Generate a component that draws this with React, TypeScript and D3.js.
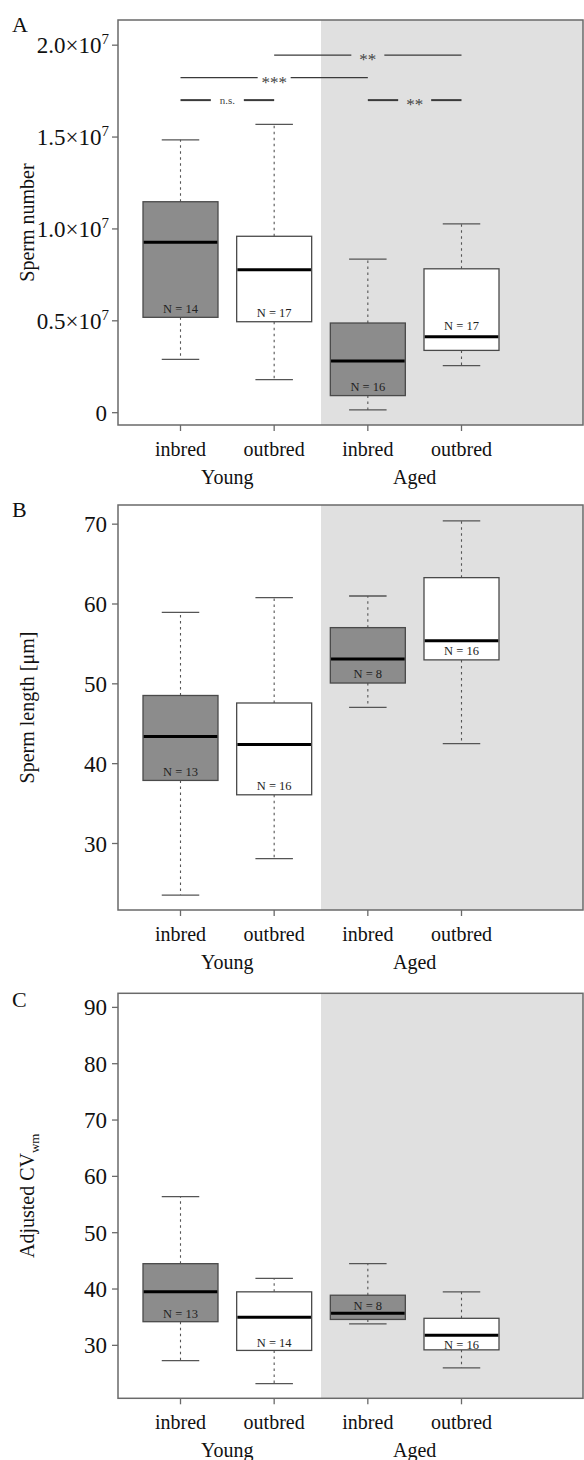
import React from 'react';
import * as d3 from 'd3';

// ---------- data ----------
const boxKeys = ['Young-inbred', 'Young-outbred', 'Aged-inbred', 'Aged-outbred'];
const categories = ['inbred', 'outbred', 'inbred', 'outbred'];
const ageGroups = ['Young', 'Aged'];
const breeding = ['inbred', 'outbred', 'inbred', 'outbred'];

// Panel A: sperm number
const numLow = [2.9e6, 1.8e6, 0.15e6, 2.56e6];
const numQ1 = [5.19e6, 4.95e6, 0.93e6, 3.39e6];
const numMed = [9.27e6, 7.78e6, 2.81e6, 4.13e6];
const numQ3 = [11.48e6, 9.6e6, 4.88e6, 7.83e6];
const numHigh = [14.85e6, 15.69e6, 8.36e6, 10.28e6];
const numN = [14, 17, 16, 17];
const numLabelAt = [5.64e6, 5.42e6, 1.41e6, 4.72e6];
const numTicks = [0, 0.5e7, 1.0e7, 1.5e7, 2.0e7];
const numDomain = [-0.67e6, 21.37e6];

// significance comparisons for panel A
const sigFrom = [1, 0, 0, 2];
const sigTo = [3, 2, 1, 3];
const sigAt = [19.46e6, 18.23e6, 17.01e6, 17.01e6];
const sigLabel = ['**', '***', 'n.s.', '**'];

// Panel B: sperm length
const lenLow = [23.54, 28.1, 47.04, 42.5];
const lenQ1 = [37.9, 36.1, 50.1, 53.0];
const lenMed = [43.41, 42.4, 53.1, 55.4];
const lenQ3 = [48.54, 47.6, 57.04, 63.3];
const lenHigh = [58.96, 60.79, 61.0, 70.4];
const lenN = [13, 16, 8, 16];
const lenLabelAt = [39.04, 37.25, 51.25, 54.1];
const lenTicks = [30, 40, 50, 60, 70];
const lenDomain = [21.67, 72.4];

// Panel C: adjusted CV
const cvLow = [27.3, 23.2, 33.8, 26.0];
const cvQ1 = [34.2, 29.1, 34.6, 29.2];
const cvMed = [39.5, 35.0, 35.7, 31.8];
const cvQ3 = [44.5, 39.5, 38.9, 34.8];
const cvHigh = [56.4, 41.9, 44.5, 39.5];
const cvN = [13, 14, 8, 16];
const cvLabelAt = [35.7, 30.5, 37.0, 30.05];
const cvTicks = [30, 40, 50, 60, 70, 80, 90];
const cvDomain = [20.6, 92.5];

// ---------- styles ----------
const FONT = '"Liberation Serif", "Times New Roman", serif';
const W = 584;
const H = 1460;
const LEFT = 118;
const RIGHT = 583;
const PH = 405;
const BOX_W = 75;
const FILL: Record<string, string> = { inbred: '#8c8c8c', outbred: '#ffffff' };
const FRAME = '#6a6a6a';
const AGED_BG = '#e0e0e0';

const xScale = d3.scalePoint<string>().domain(boxKeys).range([180.5, 461.5]);

type Stats = { low: number[]; q1: number[]; med: number[]; q3: number[]; high: number[]; n: number[]; labelAt: number[] };

function tickText(v: number, sci: boolean) {
  if (!sci || v === 0) return <>{d3.format('d')(v)}</>;
  const m = d3.format('.1f')(v / 1e7);
  return (
    <>
      {m}×10
      <tspan dy={-9} fontSize={15}>7</tspan>
    </>
  );
}

function Panel(props: {
  top: number;
  letter: string;
  letterY: number;
  yTitle: React.ReactNode;
  domain: number[];
  ticks: number[];
  sci: boolean;
  stats: Stats;
  brackets?: boolean;
}) {
  const { top, domain, ticks, sci, stats } = props;
  const bottom = top + PH;
  const y = d3.scaleLinear().domain(domain).range([bottom, top]);
  const xs = boxKeys.map((k) => xScale(k) as number);
  const split = (xs[1] + xs[2]) / 2;
  return (
    <g>
      <rect x={split} y={top} width={RIGHT - split} height={PH} fill={AGED_BG} />
      {/* significance brackets */}
      {props.brackets &&
        sigLabel.map((lab, i) => {
          const x1 = xs[sigFrom[i]];
          const x2 = xs[sigTo[i]];
          const yy = y(sigAt[i]);
          const mid = (x1 + x2) / 2;
          const gap = 16.5;
          const thick = i >= 2;
          const isStar = lab !== 'n.s.';
          return (
            <g key={'s' + i}>
              <line x1={x1} x2={mid - gap} y1={yy} y2={yy} stroke="#3a3a3a" strokeWidth={thick ? 2 : 1.2} />
              <line x1={mid + gap} x2={x2} y1={yy} y2={yy} stroke="#3a3a3a" strokeWidth={thick ? 2 : 1.2} />
              <text
                x={mid}
                y={yy + (isStar ? 10 : 4)}
                textAnchor="middle"
                fontFamily={FONT}
                fontSize={isStar ? 17 : 11}
                fill="#444"
              >
                {lab}
              </text>
            </g>
          );
        })}
      {/* boxes */}
      {boxKeys.map((k, i) => {
        const cx = xs[i];
        const fill = FILL[breeding[i]];
        return (
          <g key={k}>
            <line x1={cx} x2={cx} y1={y(stats.q3[i])} y2={y(stats.high[i])} stroke="#555" strokeWidth={1.1} strokeDasharray="2.5,3.5" />
            <line x1={cx} x2={cx} y1={y(stats.q1[i])} y2={y(stats.low[i])} stroke="#555" strokeWidth={1.1} strokeDasharray="2.5,3.5" />
            <line x1={cx - BOX_W / 4} x2={cx + BOX_W / 4} y1={y(stats.high[i])} y2={y(stats.high[i])} stroke="#555" strokeWidth={1.3} />
            <line x1={cx - BOX_W / 4} x2={cx + BOX_W / 4} y1={y(stats.low[i])} y2={y(stats.low[i])} stroke="#555" strokeWidth={1.3} />
            <rect
              x={cx - BOX_W / 2}
              y={y(stats.q3[i])}
              width={BOX_W}
              height={y(stats.q1[i]) - y(stats.q3[i])}
              fill={fill}
              stroke="#4a4a4a"
              strokeWidth={1.3}
            />
            <line x1={cx - BOX_W / 2 + 0.7} x2={cx + BOX_W / 2 - 0.7} y1={y(stats.med[i])} y2={y(stats.med[i])} stroke="#000" strokeWidth={3} />
            <text
              x={cx}
              y={y(stats.labelAt[i])}
              dy="0.35em"
              textAnchor="middle"
              fontFamily={FONT}
              fontSize={12.5}
              fill="#222"
            >
              {'N = ' + stats.n[i]}
            </text>
          </g>
        );
      })}
      {/* frame */}
      <rect x={LEFT} y={top} width={RIGHT - LEFT} height={PH} fill="none" stroke={FRAME} strokeWidth={1.5} />
      {/* y axis */}
      {ticks.map((t) => (
        <g key={'t' + t}>
          <line x1={LEFT - 6} x2={LEFT} y1={y(t)} y2={y(t)} stroke={FRAME} strokeWidth={1.3} />
          <text x={sci && t !== 0 ? 109 : 107} y={y(t)} dy="0.35em" textAnchor="end" fontFamily={FONT} fontSize={23} fill="#111">
            {tickText(t, sci)}
          </text>
        </g>
      ))}
      <text
        transform={`translate(27,${(top + bottom) / 2}) rotate(-90)`}
        textAnchor="middle"
        dy="0.35em"
        fontFamily={FONT}
        fontSize={20}
        fill="#111"
      >
        {props.yTitle}
      </text>
      {/* x axis */}
      {boxKeys.map((k, i) => (
        <g key={'x' + k}>
          <line x1={xs[i]} x2={xs[i]} y1={bottom} y2={bottom + 6} stroke={FRAME} strokeWidth={1.3} />
          <text x={xs[i]} y={bottom + 24} dy="0.35em" textAnchor="middle" fontFamily={FONT} fontSize={20} fill="#111">
            {categories[i]}
          </text>
        </g>
      ))}
      {ageGroups.map((g, gi) => (
        <text
          key={g}
          x={(xs[gi * 2] + xs[gi * 2 + 1]) / 2}
          y={bottom + 52}
          dy="0.35em"
          textAnchor="middle"
          fontFamily={FONT}
          fontSize={20}
          fill="#111"
        >
          {g}
        </text>
      ))}
      <text x={12} y={props.letterY} fontFamily={FONT} fontSize={22} fill="#111">
        {props.letter}
      </text>
    </g>
  );
}

export default function App() {
  return (
    <svg
      width={W}
      height={H}
      viewBox={`0 0 ${W} ${H}`}
      style={{ position: 'absolute', left: 0, top: 0, display: 'block', background: '#fff' }}
    >
      <Panel
        top={20}
        letter="A"
        letterY={32}
        yTitle="Sperm number"
        domain={numDomain}
        ticks={numTicks}
        sci={true}
        brackets={true}
        stats={{ low: numLow, q1: numQ1, med: numMed, q3: numQ3, high: numHigh, n: numN, labelAt: numLabelAt }}
      />
      <Panel
        top={505}
        letter="B"
        letterY={517}
        yTitle="Sperm length [μm]"
        domain={lenDomain}
        ticks={lenTicks}
        sci={false}
        stats={{ low: lenLow, q1: lenQ1, med: lenMed, q3: lenQ3, high: lenHigh, n: lenN, labelAt: lenLabelAt }}
      />
      <Panel
        top={993.3}
        letter="C"
        letterY={1007}
        yTitle={
          <>
            Adjusted CV
            <tspan dy={5} fontSize={13}>wm</tspan>
          </>
        }
        domain={cvDomain}
        ticks={cvTicks}
        sci={false}
        stats={{ low: cvLow, q1: cvQ1, med: cvMed, q3: cvQ3, high: cvHigh, n: cvN, labelAt: cvLabelAt }}
      />
    </svg>
  );
}
